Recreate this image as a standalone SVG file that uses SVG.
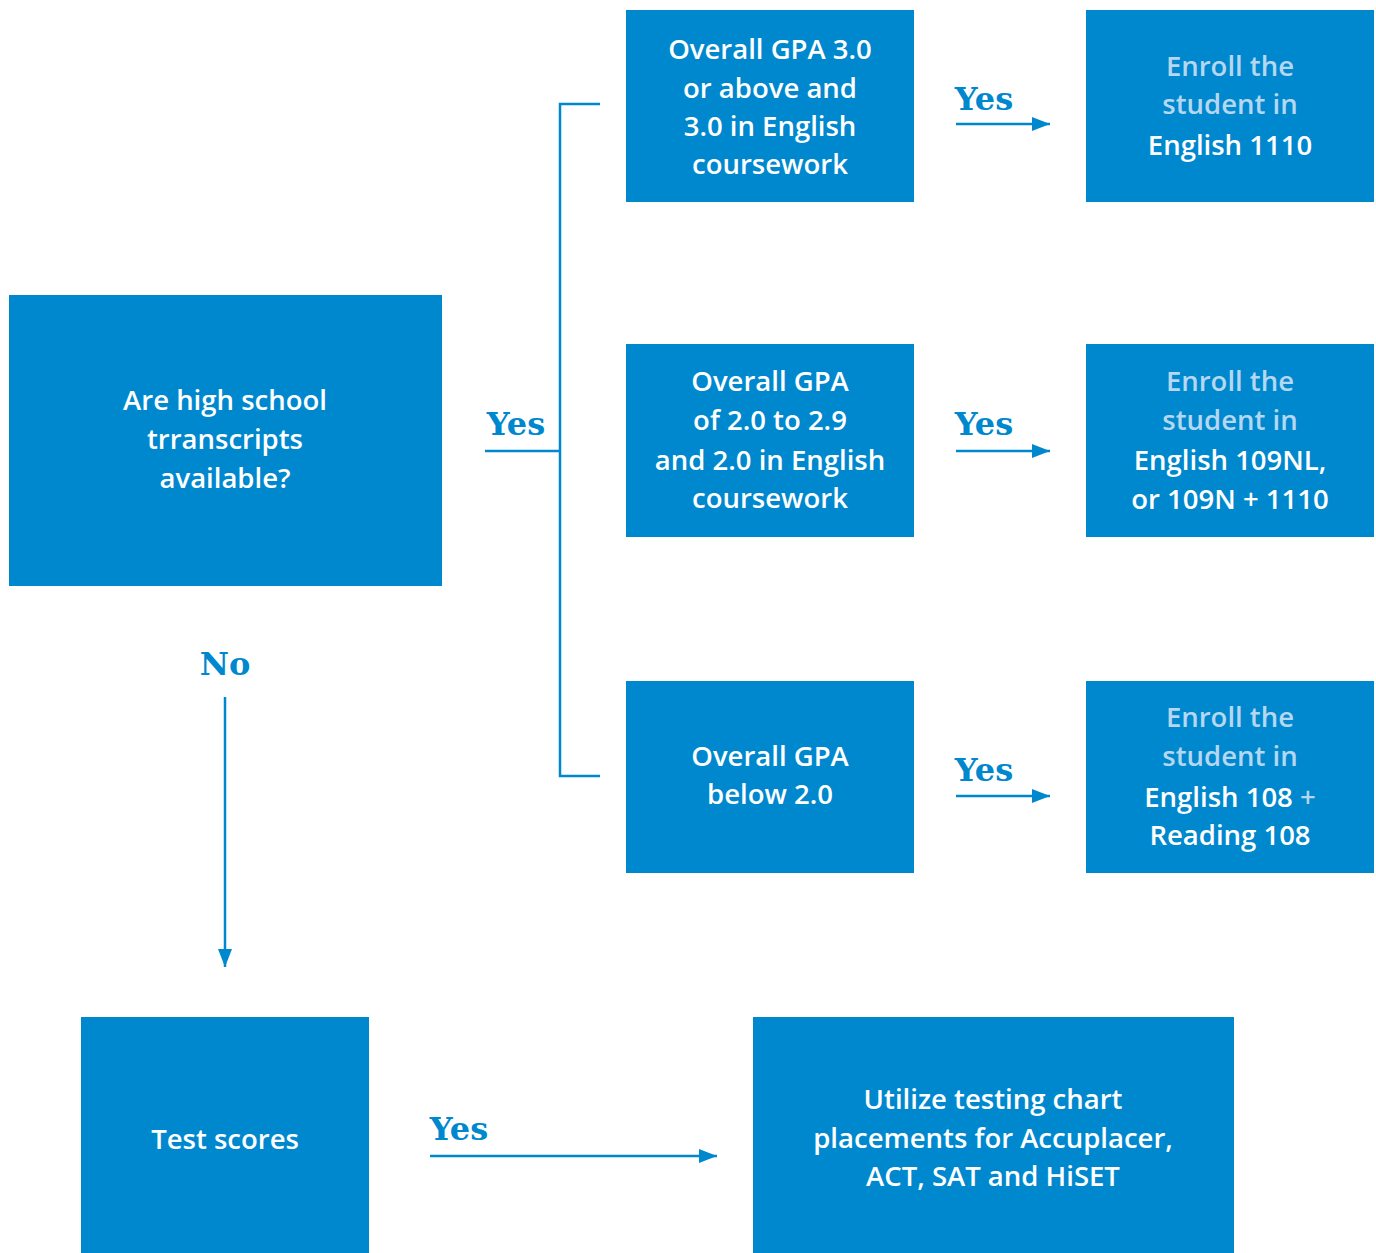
<svg xmlns="http://www.w3.org/2000/svg" width="1376" height="1253" viewBox="0 0 1376 1253">
<style>
.box{fill:#0088CF}
.t{font-family:"Open Sans","Noto Sans","Liberation Sans",sans-serif;font-weight:600;font-size:27.5px;fill:#FFFFFF;text-anchor:middle}
.lt{fill:#B5D7EF}
.lbl{font-family:"DejaVu Serif","Liberation Serif",serif;font-weight:bold;font-size:32px;fill:#0088CF;text-anchor:middle}
.ln{stroke:#0088CF;stroke-width:2.5;fill:none}
</style>
<defs>
<marker id="ah2" viewBox="0 0 10 10" refX="10" refY="5" markerWidth="18" markerHeight="14" markerUnits="userSpaceOnUse" orient="auto" preserveAspectRatio="none">
<path d="M0,0 L10,5 L0,10 z" fill="#0088CF"/>
</marker>
</defs>
<g id="n-transcripts"><rect class="box" x="9" y="295" width="433" height="291"/>
<text class="t" x="225" y="410">Are high school</text>
<text class="t" x="225" y="449">trranscripts</text>
<text class="t" x="225" y="488">available?</text></g>
<g id="n-gpa3"><rect class="box" x="626" y="10" width="288" height="192"/>
<text class="t" x="770" y="59">Overall GPA 3.0</text>
<text class="t" x="770" y="98">or above and</text>
<text class="t" x="770" y="136">3.0 in English</text>
<text class="t" x="770" y="174">coursework</text></g>
<g id="n-gpa2"><rect class="box" x="626" y="344" width="288" height="193"/>
<text class="t" x="770" y="391">Overall GPA</text>
<text class="t" x="770" y="430">of 2.0 to 2.9</text>
<text class="t" x="770" y="470">and 2.0 in English</text>
<text class="t" x="770" y="508">coursework</text></g>
<g id="n-gpa-low"><rect class="box" x="626" y="681" width="288" height="192"/>
<text class="t" x="770" y="766">Overall GPA</text>
<text class="t" x="770" y="804">below 2.0</text></g>
<g id="n-e1110"><rect class="box" x="1086" y="10" width="288" height="192"/>
<text class="t lt" x="1230" y="76">Enroll the</text>
<text class="t lt" x="1230" y="114">student in</text>
<text class="t" x="1230" y="155">English 1110</text></g>
<g id="n-e109"><rect class="box" x="1086" y="344" width="288" height="193"/>
<text class="t lt" x="1230" y="391">Enroll the</text>
<text class="t lt" x="1230" y="430">student in</text>
<text class="t" x="1230" y="470">English 109NL,</text>
<text class="t" x="1230" y="509">or 109N + 1110</text></g>
<g id="n-e108"><rect class="box" x="1086" y="681" width="288" height="192"/>
<text class="t lt" x="1230" y="727">Enroll the</text>
<text class="t lt" x="1230" y="766">student in</text>
<text class="t" x="1230" y="807">English 108 <tspan class="lt">+</tspan></text>
<text class="t" x="1230" y="845">Reading 108</text></g>
<g id="n-test"><rect class="box" x="81" y="1017" width="288" height="236"/>
<text class="t" x="225" y="1149">Test scores</text></g>
<g id="n-utilize"><rect class="box" x="753" y="1017" width="481" height="236"/>
<text class="t" x="993" y="1109">Utilize testing chart</text>
<text class="t" x="993" y="1148">placements for Accuplacer,</text>
<text class="t" x="993" y="1186">ACT, SAT and HiSET</text></g>
<g id="connectors">
<path class="ln" d="M485,451 H560 M600,104 H560 V776 H600"/>
<text class="lbl" x="516" y="435">Yes</text>
<path class="ln" d="M956,124 H1050" marker-end="url(#ah2)"/>
<text class="lbl" x="984" y="110">Yes</text>
<path class="ln" d="M956,451 H1050" marker-end="url(#ah2)"/>
<text class="lbl" x="984" y="435">Yes</text>
<path class="ln" d="M956,796 H1050" marker-end="url(#ah2)"/>
<text class="lbl" x="984" y="781">Yes</text>
<text class="lbl" x="225" y="675">No</text>
<path class="ln" d="M225,697 V967" marker-end="url(#ah2)"/>
<path class="ln" d="M430,1156 H717" marker-end="url(#ah2)"/>
<text class="lbl" x="459" y="1140">Yes</text>
</g>
</svg>
